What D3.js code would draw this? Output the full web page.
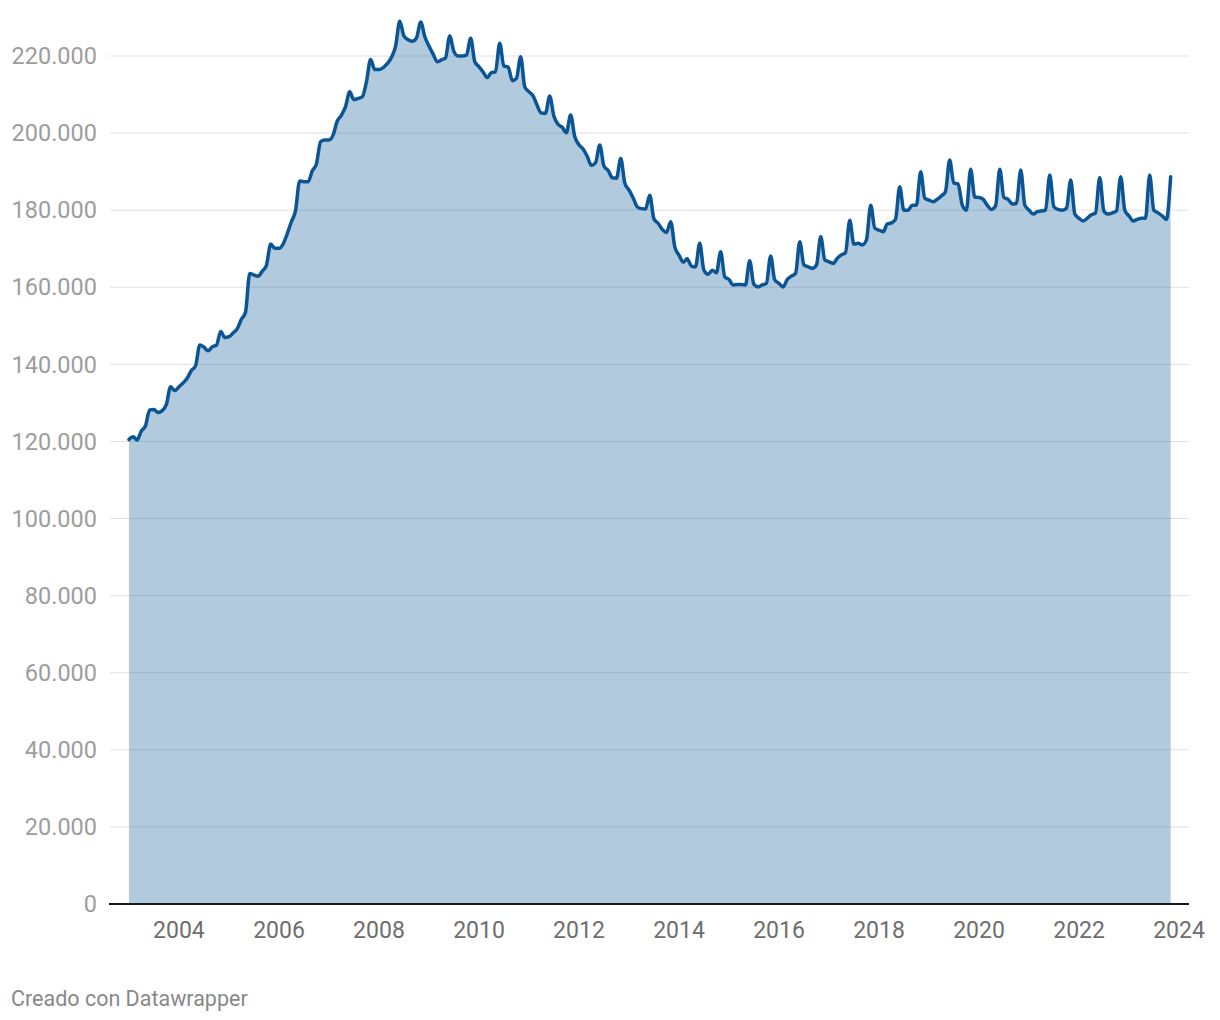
<!DOCTYPE html>
<html><head><meta charset="utf-8">
<script src="https://cdn.jsdelivr.net/npm/d3@7"></script>
<style>
body{margin:0;background:#fff;font-family:Roboto,"Noto Sans",sans-serif;}
</style></head>
<body><svg id="chart" width="1220" height="1020"></svg>
<script>
const startYear = 2003;
const values = [
120500,121200,120400,122700,124000,128200,128300,127500,128000,129600,134200,133200,
134200,135200,136400,138400,139600,145000,144500,143500,144600,145000,148500,147000,
147200,148200,149200,151700,153500,163600,163200,162900,164200,165700,171200,170100,
170100,171300,173800,177000,179800,187600,187400,187400,190200,192000,197800,198200,
198200,199600,203000,204600,206800,210700,208700,209000,209400,213200,219100,216500,
216500,217000,218000,219600,222500,229000,225200,224200,223800,224700,228800,225000,
222500,220400,218500,219000,219500,225200,221200,220000,220000,220200,224600,218500,
217200,215800,214400,215700,215900,223300,217400,217200,213600,214200,219800,212000,
210700,209600,207200,205200,205100,209600,204500,202300,201500,200100,204700,199100,
197000,195800,194000,191600,192300,196900,191500,190300,188400,188300,193400,187000,
185200,183100,180900,180400,180300,183900,177800,176600,175000,174200,177000,170500,
168300,166500,167400,165500,165300,171400,164500,163400,164400,163800,169200,162700,
162000,160600,160700,160700,160600,166900,160800,160100,160600,161000,168100,161900,
161000,160100,162000,162900,163600,171800,165800,165300,164900,165800,173100,167100,
166600,166200,167500,168400,169000,177400,171200,171400,171000,172300,181300,175300,
174800,174400,176400,176700,177600,186100,180000,180000,181300,181300,190000,183100,
182600,182200,182800,183700,184800,193000,187000,186800,181300,180000,190600,183400,
183300,182800,181300,180200,181100,190600,183300,182800,181600,181800,190400,181300,
180000,179000,179600,179800,180000,189100,180900,180200,180000,180500,187800,179000,
177900,177200,177900,178800,179300,188500,179800,179000,179300,179800,188700,180000,
178500,177200,177600,177900,177900,189100,180000,179300,178500,177600,188700
];
const yTicks = [0,20000,40000,60000,80000,100000,120000,140000,160000,180000,200000,220000];
const xTickYears = [2004,2006,2008,2010,2012,2014,2016,2018,2020,2022,2024];
const footerText = "Creado con Datawrapper";

const data = values.map((v,i)=>({date:new Date(startYear + Math.floor(i/12), i%12, 1), value:v}));

const svg = d3.select("#chart");
const x = d3.scaleTime().domain([new Date(2003,0,1), new Date(2024,0,1)]).range([129,1179]);
const y = d3.scaleLinear().domain([0,220000]).range([904,56]);
const plotLeft = 110, plotRight = 1189;

const loc = d3.formatLocale({decimal:",",thousands:".",grouping:[3],currency:["","€"]});
const fmt = loc.format(",");

// gridlines
const gy = svg.append("g");
gy.selectAll("line").data(yTicks.filter(d=>d>0)).join("line")
  .attr("x1",plotLeft).attr("x2",plotRight)
  .attr("y1",d=>y(d)).attr("y2",d=>y(d))
  .attr("stroke","#e1e1e1").attr("stroke-width",1);
gy.selectAll("text").data(yTicks).join("text")
  .attr("x",97).attr("y",d=>y(d)).attr("dy","0.35em")
  .attr("text-anchor","end").attr("fill","#9d9d9d")
  .style("font-size","23.5px").text(d=>fmt(d));

const curve = d3.curveMonotoneX;
svg.append("path").datum(data)
  .attr("d", d3.area().x(d=>x(d.date)).y0(y(0)).y1(d=>y(d.value)).curve(curve))
  .attr("fill","#0b5595").attr("fill-opacity",0.315);
svg.append("path").datum(data)
  .attr("d", d3.line().x(d=>x(d.date)).y(d=>y(d.value)).curve(curve))
  .attr("fill","none").attr("stroke","#0b5595").attr("stroke-width",3.5)
  .attr("stroke-linejoin","round").attr("stroke-linecap","round");

// baseline
svg.append("line").attr("x1",plotLeft-1).attr("x2",plotRight).attr("y1",y(0)).attr("y2",y(0))
  .attr("stroke","#1a1a1a").attr("stroke-width",2);

// x axis labels
svg.append("g").selectAll("text").data(xTickYears).join("text")
  .attr("x",d=>x(new Date(d,0,1))).attr("y",937.5)
  .attr("text-anchor","middle").attr("fill","#6e6e6e")
  .style("font-size","23px").text(d=>d);

svg.append("text").attr("x",11).attr("y",1006).attr("fill","#888")
  .style("font-size","21.5px").text(footerText);
</script></body></html>
